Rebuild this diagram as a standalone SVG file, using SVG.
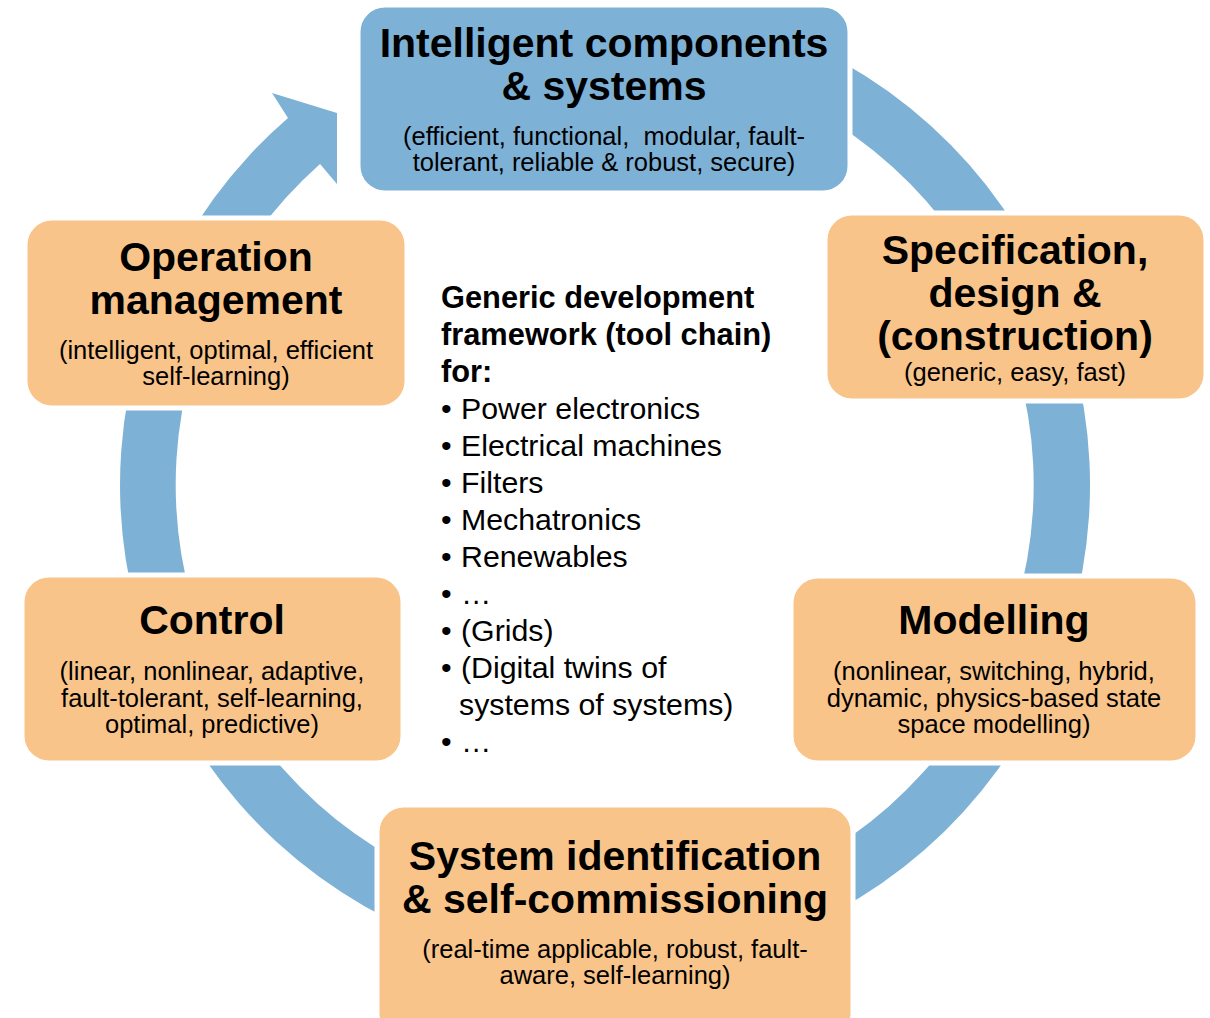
<svg xmlns="http://www.w3.org/2000/svg" width="1210" height="1018" viewBox="0 0 1210 1018">
<style>
.bg{fill:#ffffff}
.ring{fill:#7EB1D6}
.blue{fill:#7EB1D6;stroke:#ffffff;stroke-width:5}
.orange{fill:#F9C48A;stroke:#ffffff;stroke-width:5}
text{font-family:"Liberation Sans",Arial,Helvetica,sans-serif;fill:#000000}
.t{font-weight:bold;font-size:41px;text-anchor:middle}
.s{font-size:25.5px;text-anchor:middle}
.c{font-size:30.3px}
.cb{font-size:30.8px;font-weight:bold}
</style>
<rect class="bg" x="0" y="0" width="1210" height="1018"/>
<g id="connectors">
<path class="ring" d="M 689.2 7.4 A 485 485 0 1 1 288 118 L 272 93 L 337 113 L 337 184 L 320 164 A 429 429 0 1 0 679.5 62.5 Z"/>
</g>
<g id="node-intelligent">
<rect class="blue" x="358" y="5" width="492" height="188" rx="27"/>
<text class="t" x="604" y="57">Intelligent components</text>
<text class="t" x="604" y="100">&amp; systems</text>
<text class="s" x="604" y="145" xml:space="preserve">(efficient, functional,  modular, fault-</text>
<text class="s" x="604" y="171">tolerant, reliable &amp; robust, secure)</text>
</g>
<g id="node-specification">
<rect class="orange" x="825" y="213" width="381" height="188" rx="27"/>
<text class="t" x="1015" y="264">Specification,</text>
<text class="t" x="1015" y="307">design &amp;</text>
<text class="t" x="1015" y="350">(construction)</text>
<text class="s" x="1015" y="381">(generic, easy, fast)</text>
</g>
<g id="node-operation">
<rect class="orange" x="25" y="218" width="382" height="190" rx="27"/>
<text class="t" x="216" y="271">Operation</text>
<text class="t" x="216" y="314">management</text>
<text class="s" x="216" y="359">(intelligent, optimal, efficient</text>
<text class="s" x="216" y="385">self-learning)</text>
</g>
<g id="node-control">
<rect class="orange" x="22" y="575" width="381" height="188" rx="27"/>
<text class="t" x="212" y="634">Control</text>
<text class="s" x="212" y="680">(linear, nonlinear, adaptive,</text>
<text class="s" x="212" y="707">fault-tolerant, self-learning,</text>
<text class="s" x="212" y="733">optimal, predictive)</text>
</g>
<g id="node-modelling">
<rect class="orange" x="791" y="576" width="407" height="187" rx="27"/>
<text class="t" x="994" y="634">Modelling</text>
<text class="s" x="994" y="680">(nonlinear, switching, hybrid,</text>
<text class="s" x="994" y="707">dynamic, physics-based state</text>
<text class="s" x="994" y="733">space modelling)</text>
</g>
<g id="node-sysid">
<rect class="orange" x="377" y="805" width="476" height="235" rx="27"/>
<text class="t" x="615" y="870">System identification</text>
<text class="t" x="615" y="913">&amp; self-commissioning</text>
<text class="s" x="615" y="958">(real-time applicable, robust, fault-</text>
<text class="s" x="615" y="984">aware, self-learning)</text>
</g>
<g id="node-framework">
<text class="cb" x="441" y="308">Generic development</text>
<text class="cb" x="441" y="345">framework (tool chain)</text>
<text class="cb" x="441" y="382">for:</text>
<text class="c" x="441" y="419">•</text><text class="c" x="461" y="419">Power electronics</text>
<text class="c" x="441" y="456">•</text><text class="c" x="461" y="456">Electrical machines</text>
<text class="c" x="441" y="493">•</text><text class="c" x="461" y="493">Filters</text>
<text class="c" x="441" y="530">•</text><text class="c" x="461" y="530">Mechatronics</text>
<text class="c" x="441" y="567">•</text><text class="c" x="461" y="567">Renewables</text>
<text class="c" x="441" y="604">•</text><text class="c" x="461" y="604">…</text>
<text class="c" x="441" y="641">•</text><text class="c" x="461" y="641">(Grids)</text>
<text class="c" x="441" y="678">•</text><text class="c" x="461" y="678">(Digital twins of</text>
<text class="c" x="459" y="715">systems of systems)</text>
<text class="c" x="441" y="752">•</text><text class="c" x="461" y="752">…</text>
</g>
</svg>
